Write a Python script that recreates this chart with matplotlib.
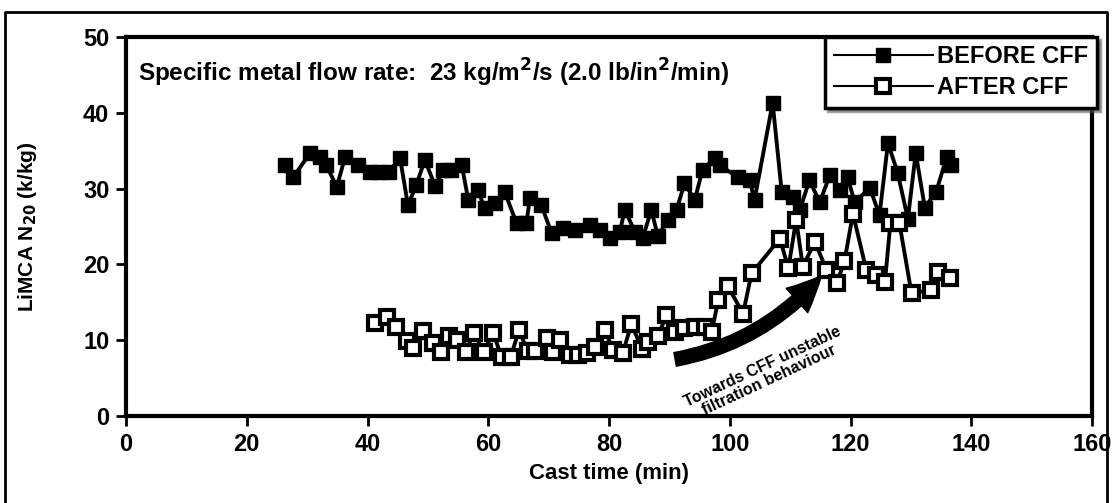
import numpy as np
import matplotlib.pyplot as plt
from matplotlib.patches import FancyArrowPatch
from matplotlib.lines import Line2D

plt.rcParams['font.family'] = ['Liberation Sans', 'DejaVu Sans']
plt.rcParams['font.weight'] = 'bold'

# datos
t_before = [26.3, 27.7, 30.5, 32.1, 33.2, 34.9, 36.3, 38.5, 40.4, 41.9, 43.5, 45.4,
            46.7, 48.1, 49.5, 51.2, 52.5, 53.9, 55.6, 56.7, 58.3, 59.4, 61.1, 62.7,
            64.7, 66.3, 66.9, 68.8, 70.5, 72.4, 74.3, 76.8, 78.5, 80.1, 81.8, 82.6,
            84.3, 85.6, 87.0, 88.1, 89.7, 91.2, 92.5, 94.2, 95.5, 97.5, 98.3, 101.3,
            103.3, 104.1, 107.1, 108.6, 110.4, 111.6, 113.2, 114.9, 116.6, 118.2,
            119.5, 120.7, 123.2, 124.8, 126.2, 127.8, 129.5, 130.8, 132.3, 134.2,
            135.9, 136.7]
n_before = [33.1, 31.5, 34.7, 34.2, 33.1, 30.2, 34.2, 33.1, 32.2, 32.2, 32.2, 34.0,
            27.8, 30.5, 33.8, 30.3, 32.5, 32.5, 33.1, 28.5, 29.8, 27.4, 28.1, 29.6,
            25.4, 25.4, 28.7, 27.8, 24.1, 24.8, 24.5, 25.2, 24.5, 23.5, 24.3, 27.2,
            24.3, 23.5, 27.2, 23.7, 25.9, 27.2, 30.7, 28.5, 32.5, 34.0, 33.1, 31.5,
            31.1, 28.5, 41.3, 29.6, 28.9, 27.2, 31.1, 28.2, 31.8, 29.8,
            31.5, 28.2, 30.1, 26.5, 36.0, 32.1, 26.0, 34.7, 27.5, 29.6,
            34.1, 33.1]

t_after = [41.2, 43.2, 44.8, 46.5, 47.6, 49.2, 50.9, 52.1, 53.5, 54.9, 56.3, 57.6,
           59.3, 60.8, 62.2, 63.7, 65.1, 66.5, 67.7, 69.7, 70.7, 71.9, 73.5, 74.9,
           76.3, 77.6, 79.3, 80.7, 82.3, 83.7, 85.4, 86.5, 88.1, 89.5, 90.9, 92.5,
           94.2, 95.9, 97.0, 98.1, 99.7, 102.2, 103.6, 108.3, 109.7, 111.0, 112.1,
           114.1, 116.0, 117.7, 119.0, 120.4, 122.6, 124.3, 125.7, 126.6, 128.1,
           130.1, 133.4, 134.5, 136.4]
n_after = [12.3, 13.1, 11.8, 9.9, 9.0, 11.2, 9.6, 8.5, 10.6, 10.0, 8.5, 11.0,
           8.5, 11.0, 7.8, 7.8, 11.3, 8.6, 8.6, 10.3, 8.4, 10.0, 8.0, 8.0,
           8.3, 9.1, 11.3, 8.7, 8.3, 12.2, 8.9, 9.8, 10.5, 13.3, 11.1, 11.6,
           11.8, 11.8, 11.1, 15.3, 17.1, 13.5, 18.8, 23.4, 19.5, 25.9, 19.7,
           23.0, 19.3, 17.5, 20.4, 26.7, 19.3, 18.6, 17.7, 25.4, 25.4,
           16.2, 16.6, 19.0, 18.2]

xticks = [0, 20, 40, 60, 80, 100, 120, 140, 160]
yticks = [0, 10, 20, 30, 40, 50]

fig = plt.figure(figsize=(11.19, 5.03), dpi=100)
ax = fig.add_axes([0.1126, 0.1730, 0.8633, 0.7535])

ax.plot(t_before, n_before, color='black', lw=2.8, marker='s', ms=10.5,
        mfc='black', mec='black', label='BEFORE CFF', zorder=3)
ax.plot(t_after, n_after, color='black', lw=2.8, marker='s', ms=9.5,
        mfc='white', mec='black', mew=3, label='AFTER CFF', zorder=4)

ax.set_xlim(0, 160)
ax.set_ylim(0, 50)
ax.set_xticks(xticks)
ax.set_yticks(yticks)
ax.tick_params(direction='out', length=7, width=2, labelsize=17, pad=5)
for lab in ax.get_xticklabels() + ax.get_yticklabels():
    lab.set_fontweight('bold')
for s in ax.spines.values():
    s.set_linewidth(3)

ax.set_xlabel('Cast time (min)', fontsize=16, fontweight='bold', labelpad=5)
ax.set_ylabel('LiMCA N$_{\\mathbf{20}}$ (k/kg)', fontsize=15, fontweight='bold')
ax.yaxis.set_label_coords(-0.09, 0.5)

ax.text(2, 45.2, 'Specific metal flow rate:  23 kg/m$^{\\mathbf{2}}$/s (2.0 lb/in$^{\\mathbf{2}}$/min)',
        fontsize=17.5, fontweight='bold', va='center', ha='left')

leg = ax.legend(loc='upper right', bbox_to_anchor=(1.005, 1.0), borderaxespad=0,
                frameon=True, fancybox=False, shadow=True,
                handlelength=4.2, handletextpad=0.2, labelspacing=0.35,
                borderpad=0.35, prop={'weight': 'bold', 'size': 17})
leg.get_frame().set_edgecolor('black')
leg.get_frame().set_linewidth(2.5)
for h in leg.legend_handles:
    h.set_linewidth(1.5)

# flecha curva
arrow = FancyArrowPatch((90.5, 7.4), (115.5, 18.8),
                        connectionstyle='arc3,rad=0.18',
                        arrowstyle='simple,head_length=1.4,head_width=1.3,tail_width=0.55',
                        mutation_scale=18, color='black', zorder=5)
ax.add_patch(arrow)
ax.text(106.0, 5.6, 'Towards CFF unstable\nfiltration behaviour', fontsize=11.5,
        fontweight='bold', rotation=25, ha='center', va='center', linespacing=1.0)

# marco exterior
fig.add_artist(Line2D([0.0045, 0.0045, 0.9893, 0.9893], [0.0, 0.976, 0.976, 0.0],
                      transform=fig.transFigure, color='black', lw=2))

plt.savefig('out.png', dpi=100)
